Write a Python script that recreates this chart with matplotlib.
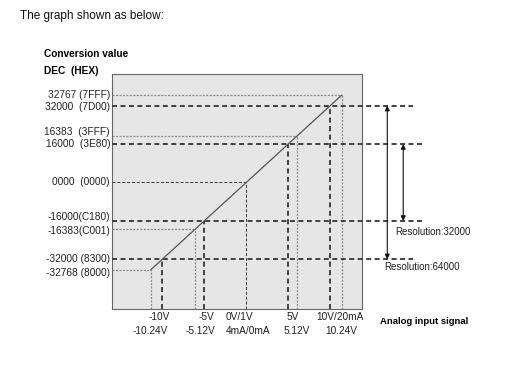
"""Analog input conversion diagram: signal (V / mA) vs conversion value DEC (HEX)."""

import matplotlib
matplotlib.use("Agg")
import matplotlib.pyplot as plt
from matplotlib.transforms import blended_transform_factory, offset_copy

plt.rcParams["font.family"] = ["Liberation Sans", "DejaVu Sans"]
plt.rcParams["lines.scale_dashes"] = False

# nominal points (heavy dashed guides)
NOMINAL_V = [-10, -5, 5, 10]
NOMINAL_DEC = [-32000, -16000, 16000, 32000]
# limit points (light dotted guides); the sketch spreads them out from the nominal ones
LIMIT_V = [-10.24, -5.12, 5.12, 10.24]
LIMIT_DEC = [-32768, -16383, 16383, 32767]
LIMIT_SKETCH_V = [-11.35, -6.05, 6.05, 11.35]
COUNTS_PER_V = 3200

Y_LABELS = ["32767 (7FFF)", "32000  (7D00)", "16383  (3FFF)", "16000  (3E80)",
            "0000  (0000)", "-16000(C180)", "-16383(C001)", "-32000 (8300)",
            "-32768 (8000)"]
Y_LABEL_DEC = [32767, 32000, 16383, 16000, 0, -16000, -16383, -32000, -32768]

X_TOP = ["-10V", "-5V", "0V/1V", "5V", "10V/20mA"]
X_BOTTOM = ["-10.24V", "-5.12V", "4mA/0mA", "5.12V", "10.24V"]

RESOLUTIONS = ["Resolution:32000", "Resolution:64000"]

# layout
Y_LABEL_NUDGE = [0, -1, 4, 0, 0, 4, -2, 0, -3]   # pixels, up is positive
X_TOP_POS = [-10.4, -4.7, -0.75, 5.55, 11.2]
X_BOTTOM_POS = [-11.45, -5.5, 0.2, 6.0, 11.37]
DASH_HEAVY = dict(color="#3a3a3a", lw=1.35, dashes=(3.6, 2.5))
DOT_LIGHT = dict(color="#8c8c8c", lw=0.9, dashes=(1.5, 1.0))
DASH_ZERO = dict(color="#444444", lw=0.75, dashes=(2.2, 1.3))


def sketch_y(dec):
    """Map a DEC value to its sketch height (limits are drawn spread out)."""
    if dec in LIMIT_DEC:
        return LIMIT_SKETCH_V[LIMIT_DEC.index(dec)] * COUNTS_PER_V
    return dec


fig = plt.figure(figsize=(5.07, 3.78), dpi=100)
ax = fig.add_axes([112 / 507, 69 / 378, 250 / 507, 235 / 378])
ax.set_xlim(-15.98, 13.79)
ax.set_ylim(-52708, 45208)
ax.set_facecolor("#e6e6e6")
for sp in ax.spines.values():
    sp.set_color("#666666")
    sp.set_linewidth(0.8)
ax.set_xticks([])
ax.set_yticks([])

x0, x1 = ax.get_xlim()
y0 = ax.get_ylim()[0]

# transfer line
ax.plot([LIMIT_SKETCH_V[0], LIMIT_SKETCH_V[-1]],
        [LIMIT_SKETCH_V[0] * COUNTS_PER_V, LIMIT_SKETCH_V[-1] * COUNTS_PER_V],
        color="#555555", lw=0.9, zorder=4)

# light dotted guides for the limit points
for xv in LIMIT_SKETCH_V:
    yv = xv * COUNTS_PER_V
    ax.plot([x0, xv], [yv, yv], **DOT_LIGHT)
    ax.plot([xv, xv], [y0, yv], **DOT_LIGHT)

# zero point
ax.plot([x0, 0], [0, 0], **DASH_ZERO)
ax.plot([0, 0], [y0, 0], **DASH_ZERO)

# heavy dashed guides for the nominal points (horizontal ones run past the box)
ext = {32000: 19.86, -32000: 19.86, 16000: 21.05, -16000: 21.05}
for xv, dv in zip(NOMINAL_V, NOMINAL_DEC):
    ax.plot([x0, ext[dv]], [dv, dv], clip_on=False, zorder=3, **DASH_HEAVY)
    ax.plot([xv, xv], [y0, dv], zorder=3, **DASH_HEAVY)

# resolution arrows
ax.annotate("", xy=(16.8, -32000), xytext=(16.8, 32000), annotation_clip=False,
            arrowprops=dict(arrowstyle="<|-|>", color="#111111", lw=0.8,
                            mutation_scale=7, shrinkA=0, shrinkB=0))
ax.annotate("", xy=(18.7, -16000), xytext=(18.7, 16000), annotation_clip=False,
            arrowprops=dict(arrowstyle="<|-|>", color="#111111", lw=0.8,
                            mutation_scale=7, shrinkA=0, shrinkB=0))
ax.text(17.7, -20600, RESOLUTIONS[0], fontsize=7, va="center", ha="left",
        color="#222222", clip_on=False)
ax.text(16.4, -35200, RESOLUTIONS[1], fontsize=7, va="center", ha="left",
        color="#222222", clip_on=False)

# y labels
ty = blended_transform_factory(ax.transAxes, ax.transData)
for lab, dv, nudge in zip(Y_LABELS, Y_LABEL_DEC, Y_LABEL_NUDGE):
    tr = offset_copy(ty, fig=fig, x=0, y=nudge, units="dots")
    ax.text(-0.008, sketch_y(dv), lab, transform=tr, fontsize=7.3,
            ha="right", va="center", color="#222222")

# x labels
tx = blended_transform_factory(ax.transData, ax.transAxes)
for lab, xp in zip(X_TOP, X_TOP_POS):
    ax.text(xp, -0.033, lab, transform=tx, fontsize=7.3, ha="center",
            va="center", color="#222222")
for lab, xp in zip(X_BOTTOM, X_BOTTOM_POS):
    ax.text(xp, -0.094, lab, transform=tx, fontsize=7.3, ha="center",
            va="center", color="#222222")

# headings
fig.text(20 / 507, 1 - 16 / 378, "The graph shown as below:", fontsize=8.5,
         va="center", ha="left", color="#111111")
fig.text(44 / 507, 1 - 54 / 378, "Conversion value", fontsize=7.3,
         fontweight="bold", va="center", ha="left")
fig.text(44 / 507, 1 - 71 / 378, "DEC  (HEX)", fontsize=7.3,
         fontweight="bold", va="center", ha="left")
fig.text(380 / 507, 1 - 322 / 378, "Analog input signal", fontsize=6.8,
         fontweight="bold", va="center", ha="left")

fig.savefig("out.png", dpi=100, facecolor="white")
